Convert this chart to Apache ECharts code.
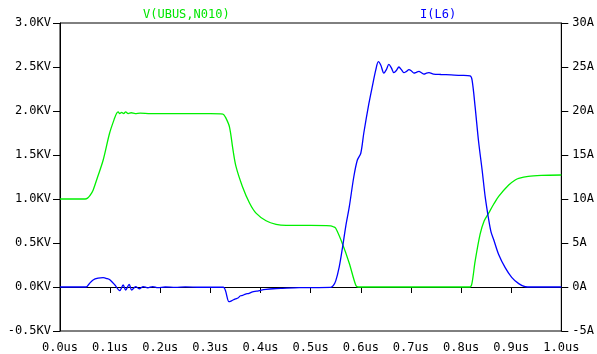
<!DOCTYPE html>
<html><head><meta charset="utf-8">
<script src="https://cdn.jsdelivr.net/npm/echarts@6/dist/echarts.min.js"></script>
<style>html,body{margin:0;padding:0;background:#fff}#c{width:597px;height:354px}</style>
</head><body><div id="c"></div>
<script>
// Time axis tick labels (us)
var xTicks = [0.0,0.1,0.2,0.3,0.4,0.5,0.6,0.7,0.8,0.9,1.0];
// V(UBUS,N010) in KV
var vTime = [0,0.050,0.055,0.060,0.066,0.075,0.086,0.099,0.109,0.113,0.116,0.119,0.123,0.127,0.131,0.136,0.142,0.150,0.160,0.180,0.220,0.300,0.325,0.330,0.338,0.345,0.351,0.364,0.378,0.391,0.411,0.431,0.451,0.500,0.540,0.545,0.550,0.563,0.577,0.590,0.595,0.700,0.818,0.822,0.828,0.838,0.846,0.855,0.865,0.875,0.895,0.908,0.915,0.934,0.960,1.000];
var vValues = [1.00,1.00,1.01,1.04,1.10,1.25,1.44,1.75,1.92,1.975,1.99,1.97,1.985,1.97,1.99,1.97,1.98,1.97,1.975,1.97,1.97,1.97,1.965,1.93,1.82,1.56,1.37,1.14,0.955,0.84,0.753,0.712,0.70,0.70,0.695,0.685,0.667,0.497,0.27,0.02,0.0,0.0,0.0,0.05,0.29,0.60,0.75,0.84,0.94,1.03,1.16,1.216,1.235,1.258,1.268,1.273];
// I(L6) in A
var iTime = [0,0.052,0.058,0.066,0.076,0.086,0.094,0.100,0.110,0.119,0.126,0.131,0.138,0.143,0.151,0.158,0.166,0.175,0.185,0.195,0.210,0.230,0.250,0.280,0.326,0.330,0.337,0.341,0.345,0.350,0.355,0.360,0.364,0.370,0.377,0.384,0.392,0.400,0.411,0.425,0.444,0.477,0.540,0.545,0.550,0.557,0.563,0.570,0.577,0.586,0.593,0.600,0.606,0.616,0.623,0.630,0.635,0.640,0.646,0.651,0.656,0.661,0.666,0.671,0.676,0.681,0.686,0.691,0.696,0.701,0.706,0.711,0.716,0.721,0.726,0.731,0.736,0.745,0.760,0.780,0.800,0.818,0.822,0.828,0.835,0.842,0.848,0.855,0.860,0.865,0.875,0.888,0.901,0.915,0.928,0.940,1.000];
var iValues = [0,0,0.35,0.8,1.0,1.06,0.95,0.8,0.2,-0.42,0.23,-0.34,0.3,-0.34,0.05,-0.2,0.05,-0.1,0.05,-0.08,0.0,-0.05,0.02,-0.03,-0.03,-0.4,-1.67,-1.6,-1.48,-1.35,-1.25,-1.0,-0.95,-0.8,-0.72,-0.55,-0.48,-0.38,-0.28,-0.2,-0.15,-0.08,-0.05,0.15,0.7,2.3,4.3,6.9,9.1,12.5,14.4,15.2,17.5,20.8,22.8,24.7,25.6,25.2,24.3,24.7,25.3,24.9,24.35,24.6,25.0,24.7,24.35,24.5,24.7,24.55,24.3,24.4,24.5,24.35,24.2,24.3,24.35,24.2,24.15,24.1,24.05,23.98,23.5,20.5,16.5,13.3,10.3,7.7,6.2,5.4,3.7,2.2,1.1,0.38,0.03,0.0,0.0];
var seriesNames = ['V(UBUS,N010)','I(L6)'];

function pairs(t, v){ return t.map(function(x,i){ return [x, v[i]]; }); }

var font = "'DejaVu Sans Mono', monospace";
var chart = echarts.init(document.getElementById('c'), null, {renderer:'canvas'});
chart.setOption({
  animation:false,
  backgroundColor:'#fff',
  grid:{left:60,right:34,top:23,bottom:22,show:true,borderColor:'#000',borderWidth:1,backgroundColor:'transparent'},
  graphic:[
    {type:'text',left:143,top:9,style:{text:seriesNames[0],fill:'#00e600',font:'12px '+font}},
    {type:'text',left:420,top:9,style:{text:seriesNames[1],fill:'#0000ff',font:'12px '+font}}
  ],
  xAxis:{type:'value',min:0,max:1,interval:0.1,
    axisLine:{show:true,lineStyle:{color:'#000',width:1}},
    axisTick:{show:true,length:6,lineStyle:{color:'#000'}},
    splitLine:{show:false},
    axisLabel:{margin:11,color:'#000',fontFamily:font,fontSize:12,
      formatter:function(v){return v.toFixed(1)+'us';}}},
  yAxis:[
    {type:'value',min:-0.5,max:3.0,interval:0.5,position:'left',
     axisLine:{show:true,lineStyle:{color:'#000'}},
     axisTick:{show:true,length:7,lineStyle:{color:'#000'}},
     splitLine:{show:false},
     axisLabel:{margin:9,color:'#000',fontFamily:font,fontSize:12,
       formatter:function(v){return v.toFixed(1)+'KV';}}},
    {type:'value',min:-5,max:30,interval:5,position:'right',
     axisLine:{show:true,lineStyle:{color:'#000'}},
     axisTick:{show:true,length:7,lineStyle:{color:'#000'}},
     splitLine:{show:false},
     axisLabel:{margin:11,color:'#000',fontFamily:font,fontSize:12,
       formatter:function(v){return v+'A';}}}
  ],
  series:[
    {name:seriesNames[0],type:'line',yAxisIndex:0,data:pairs(vTime,vValues),showSymbol:false,smooth:0.3,
     lineStyle:{color:'#00f000',width:1.3},itemStyle:{color:'#00f000'}},
    {name:seriesNames[1],type:'line',yAxisIndex:1,data:pairs(iTime,iValues),showSymbol:false,smooth:0.3,
     lineStyle:{color:'#0000ff',width:1.3},itemStyle:{color:'#0000ff'}}
  ]
});
</script></body></html>
